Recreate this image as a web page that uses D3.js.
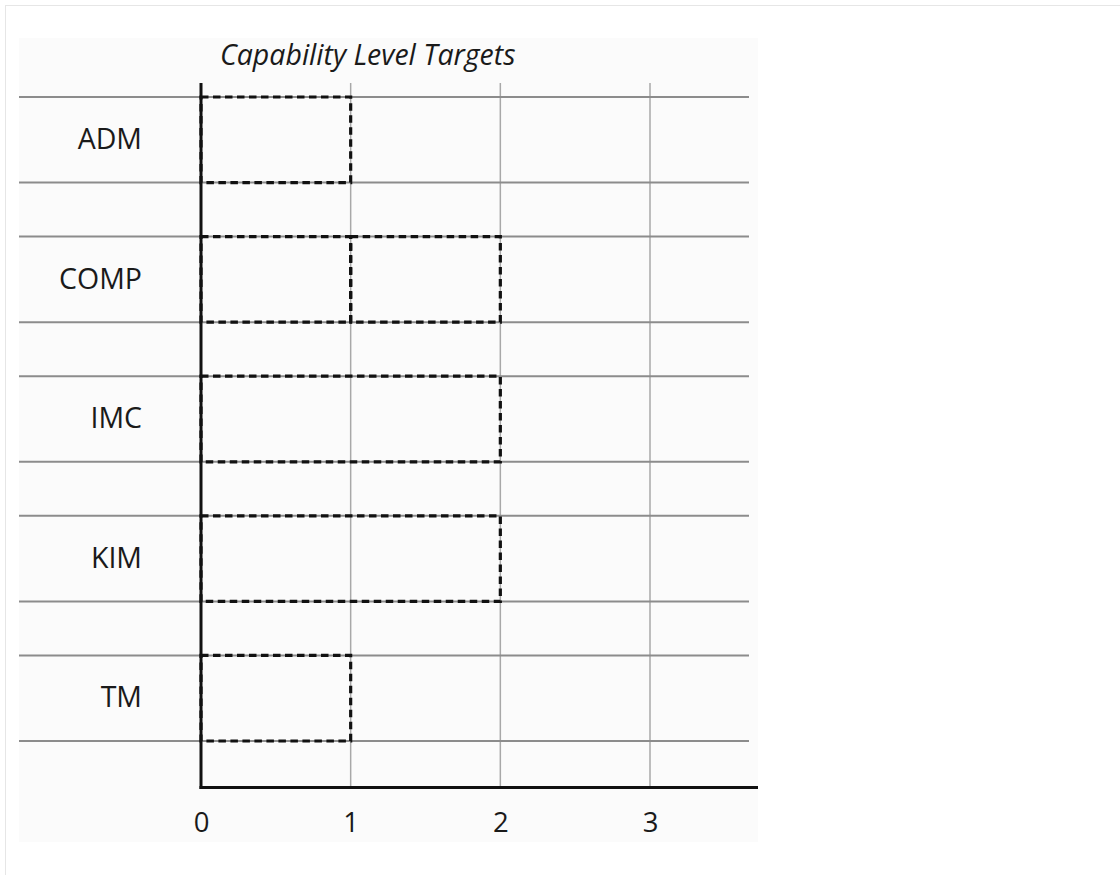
<!DOCTYPE html>
<html>
<head>
<meta charset="utf-8">
<script src="https://cdn.jsdelivr.net/npm/d3@7"></script>
<style>
  html, body { margin: 0; padding: 0; background: #ffffff; }
  svg { display: block; }
  text { font-family: "Open Sans", "Noto Sans", sans-serif; fill: #1a1a1a; }
</style>
</head>
<body>
<script>
// ---- data ----
const title = "Capability Level Targets";
const categories = ["ADM", "COMP", "IMC", "KIM", "TM"];
// target boxes per category (each box spans one or more capability levels, stacked from 0)
const targetSegments = [[1], [1, 1], [2], [2], [1]];
const xTicks = [0, 1, 2, 3];

// ---- layout ----
const W = 1120, H = 875;
const svg = d3.select("body").append("svg").attr("width", W).attr("height", H);

// page frame
svg.append("line").attr("x1", 5).attr("x2", W).attr("y1", 5.5).attr("y2", 5.5)
  .attr("stroke", "#e6e6e6").attr("stroke-width", 1);
svg.append("line").attr("x1", 5.5).attr("x2", 5.5).attr("y1", 5).attr("y2", H)
  .attr("stroke", "#e6e6e6").attr("stroke-width", 1);

// chart panel
svg.append("rect").attr("x", 19).attr("y", 38).attr("width", 739).attr("height", 804)
  .attr("fill", "#fbfbfb");

const x = d3.scaleLinear().domain([0, 3]).range([201, 650]);
const y = d3.scaleBand().domain(categories).range([97, 741])
  .paddingInner(0.387).paddingOuter(0);

const axisY = 787.5, gridTop = 83, xAxisEnd = 758;
const rowLeft = 19, rowRight = 749;

// vertical gridlines
svg.append("g").selectAll("line").data(xTicks.filter(d => d > 0)).join("line")
  .attr("x1", d => x(d)).attr("x2", d => x(d))
  .attr("y1", gridTop).attr("y2", axisY)
  .attr("stroke", "#a8a8a8").attr("stroke-width", 1.5);

// horizontal row lines (band top & bottom)
const rowLines = [];
categories.forEach(c => { rowLines.push(y(c)); rowLines.push(y(c) + y.bandwidth()); });
svg.append("g").selectAll("line").data(rowLines).join("line")
  .attr("x1", rowLeft).attr("x2", rowRight)
  .attr("y1", d => d).attr("y2", d => d)
  .attr("stroke", "#8c8c8c").attr("stroke-width", 2);

// dashed target boxes
const boxes = [];
categories.forEach((c, i) => {
  let start = 0;
  targetSegments[i].forEach(len => {
    boxes.push({ cat: c, x0: start, x1: start + len });
    start += len;
  });
});
svg.append("g").selectAll("rect").data(boxes).join("rect")
  .attr("x", d => x(d.x0)).attr("width", d => x(d.x1) - x(d.x0))
  .attr("y", d => y(d.cat)).attr("height", y.bandwidth())
  .attr("fill", "none").attr("stroke", "#111").attr("stroke-width", 3.2)
  .attr("stroke-dasharray", "7.5,4.5");

// axes lines
svg.append("line").attr("x1", x(0)).attr("x2", x(0)).attr("y1", gridTop).attr("y2", axisY + 1.5)
  .attr("stroke", "#111").attr("stroke-width", 3);
svg.append("line").attr("x1", x(0) - 1.5).attr("x2", xAxisEnd).attr("y1", axisY).attr("y2", axisY)
  .attr("stroke", "#111").attr("stroke-width", 3);

// x tick labels
const gx = svg.append("g").attr("transform", `translate(0,${axisY})`)
  .call(d3.axisBottom(x).tickValues(xTicks).tickSize(0).tickPadding(25).tickFormat(d3.format("d")));
gx.select(".domain").remove();
gx.selectAll("text").style("font-size", "27.5px").style("font-family", "'Open Sans', sans-serif")
  .attr("fill", "#1a1a1a");

// category labels
const gy = svg.append("g").attr("transform", `translate(142,0)`)
  .call(d3.axisLeft(y).tickSize(0).tickPadding(0));
gy.select(".domain").remove();
gy.selectAll("text").style("font-size", "28.5px").style("font-family", "'Open Sans', sans-serif")
  .attr("fill", "#1a1a1a");

// title
svg.append("text").attr("x", 220).attr("y", 65)
  .style("font-size", "28.5px").style("font-style", "italic")
  .text(title);
</script>
</body>
</html>
